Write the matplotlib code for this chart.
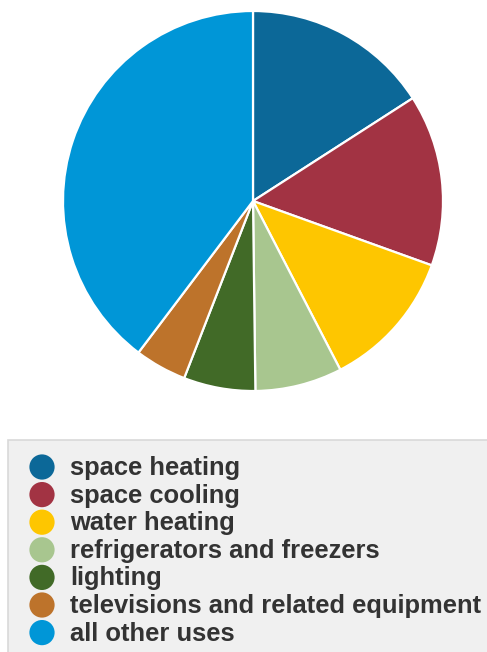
import matplotlib
matplotlib.use("Agg")
import matplotlib.pyplot as plt
from matplotlib.patches import Rectangle

categories = [
    "space heating",
    "space cooling",
    "water heating",
    "refrigerators and freezers",
    "lighting",
    "televisions and related equipment",
    "all other uses",
]
shares = [15.9, 14.6, 11.9, 7.4, 6.1, 4.4, 39.7]
colors = ["#0c6898", "#a23343", "#fec600", "#a8c68f", "#416a27", "#bd732b", "#0096d7"]

W, H = 487, 652
fig = plt.figure(figsize=(W / 100, H / 100), dpi=100)
fig.patch.set_facecolor("white")

# pie: centre (253, 201) px, radius 190 px
cx, cy, r = 253, 201, 190
ax = fig.add_axes([(cx - r) / W, (H - cy - r) / H, 2 * r / W, 2 * r / H])
ax.pie(shares, colors=colors, startangle=90, counterclock=False, radius=1.0,
       wedgeprops=dict(edgecolor="white", linewidth=1.6))
ax.set_xlim(-1.0, 1.0)
ax.set_ylim(-1.0, 1.0)
ax.set_aspect("equal")
ax.axis("off")

# legend panel, laid out in pixel units
lx, ly = 8, 440
lw, lh = W - lx, H - ly
lax = fig.add_axes([lx / W, 0, lw / W, lh / H])
lax.set_xlim(0, lw)
lax.set_ylim(lh, 0)
lax.axis("off")
lax.add_patch(Rectangle((0, 0), lw + 5, lh + 5, facecolor="#f0f0f0",
                        edgecolor="#d9d9d9", linewidth=1.2, clip_on=False))
y0, step = 27, 27.6
for i, (lab, col) in enumerate(zip(categories, colors)):
    y = y0 + i * step
    lax.scatter([34], [y], s=330, color=col, edgecolors="none", zorder=3)
    lax.text(62, y + 1, lab, fontsize=18.4, fontweight="bold", color="#333333",
             family="Liberation Sans", va="center", ha="left")

fig.savefig("out.png", dpi=100)
